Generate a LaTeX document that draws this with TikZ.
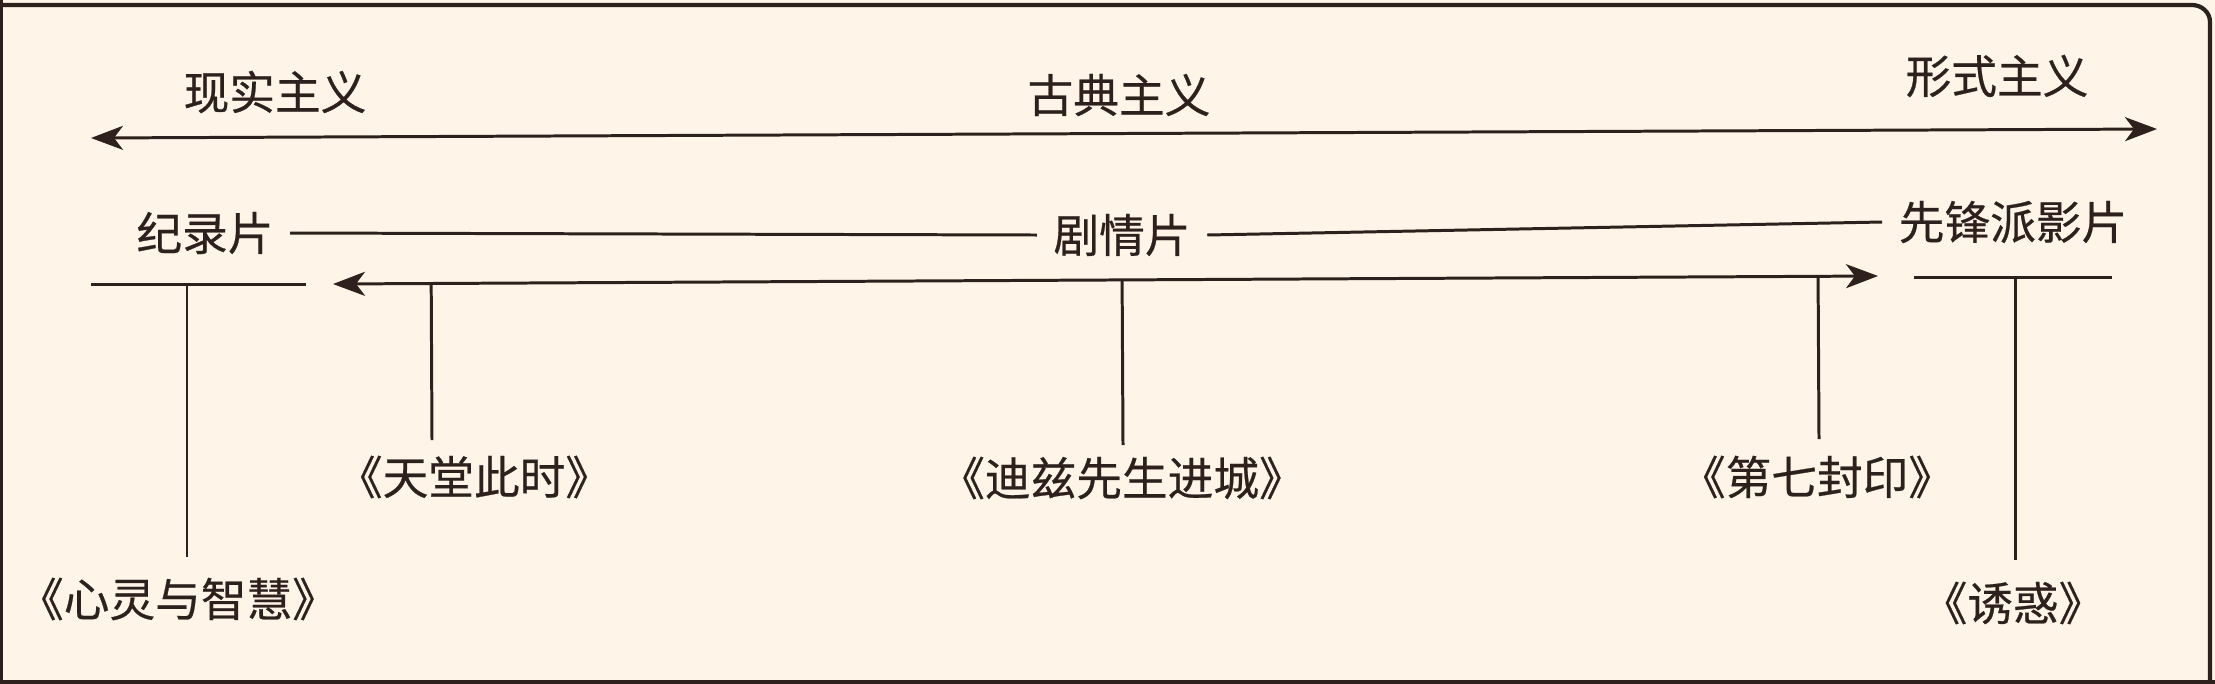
\documentclass[tikz,border=0pt]{standalone}
\usepackage{fontspec}
\setmainfont{Noto Sans CJK SC}[FakeBold=0.5]
\usetikzlibrary{arrows.meta,calc}
\definecolor{paper}{HTML}{FEF4E7}
\definecolor{ink}{HTML}{2E201C}
\tikzset{
  lbl/.style={text=ink,font=\fontsize{13pt}{15pt}\selectfont,inner sep=1.6mm},
  conn/.style={draw=ink,line width=0.85pt},
  tip/.style={conn,{Stealth[length=3.2mm,width=2.4mm,inset=0.9mm]}-{Stealth[length=3.2mm,width=2.4mm,inset=0.9mm]}},
  frame/.style={draw=ink,line width=1.2pt}
}
\begin{document}
\begin{tikzpicture}[x=0.1mm,y=-0.1mm]
\fill[paper] (0,0) rectangle (2215,683);
\useasboundingbox (0,0) rectangle (2215,683);
% frame
\draw[frame] (0,5) -- (2192,5) to[out=0,in=90] (2210,22) -- (2210,683);
\draw[frame] (0,682) -- (2215,682);
\draw[frame] (1,0) -- (1,683);
% top scale
\node[lbl] (realism) at (275,92) {现实主义};
\node[lbl] (classic) at (1119,95) {古典主义};
\node[lbl] (formal) at (1997,76) {形式主义};
\coordinate (topL) at (91,138);
\coordinate (topR) at (2157,129);
\draw[tip] (topL) -- (topR);
% film kinds
\node[lbl] (doc) at (205,233) {纪录片};
\node[lbl] (fiction) at (1122,235) {剧情片};
\node[lbl] (avant) at (2013,222) {先锋派影片};
\draw[conn] (doc.east) -- (fiction.west);
\draw[conn] (fiction.east) -- (avant.west);
% lower brackets
\coordinate (lsL) at (91,284);
\coordinate (lsR) at (306,284);
\coordinate (lowL) at (333,284);
\coordinate (lowR) at (1878,276);
\coordinate (rsL) at (1914,277);
\coordinate (rsR) at (2112,277);
\draw[conn] (lsL) -- (lsR);
\draw[tip] (lowL) -- (lowR);
\draw[conn] (rsL) -- (rsR);
% films
\node[lbl] (f1) at (178,599) {《心灵与智慧》};
\node[lbl] (f2) at (474,477) {《天堂此时》};
\node[lbl] (f3) at (1122,478) {《迪兹先生进城》};
\node[lbl] (f4) at (1817,477) {《第七封印》};
\node[lbl] (f5) at (2013,603) {《诱惑》};
\coordinate (t1) at (187,557);
\coordinate (t2) at (432,440);
\coordinate (t3) at (1123,445);
\coordinate (t4) at (1819,439);
\coordinate (t5) at (2015,560);
\draw[conn] (t1) -- ($(lsL)!(t1)!(lsR)$);
\draw[conn] (t2) -- ($(lowL)!(t2)!(lowR)$);
\draw[conn] (t3) -- ($(lowL)!(t3)!(lowR)$);
\draw[conn] (t4) -- ($(lowL)!(t4)!(lowR)$);
\draw[conn] (t5) -- ($(rsL)!(t5)!(rsR)$);
\end{tikzpicture}
\end{document}
